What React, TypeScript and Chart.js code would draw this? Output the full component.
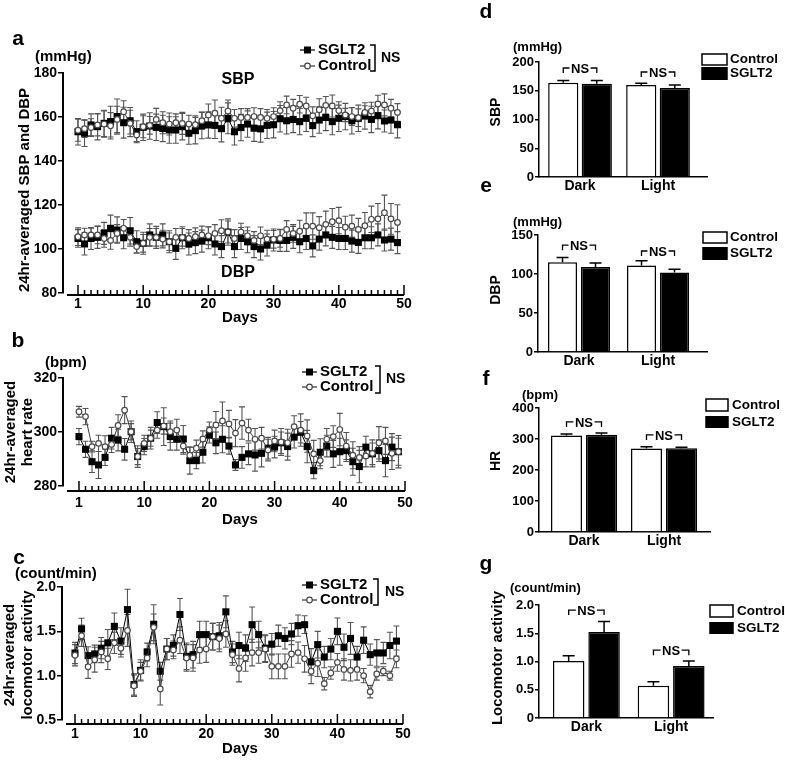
import React, { useEffect, useRef } from 'react';
import { Chart, registerables } from 'chart.js';

Chart.register(...registerables);

const FONT = '"Liberation Sans", Arial, Helvetica, sans-serif';

// ---------- Day axis ----------
const dayTickValues = [0, 10, 20, 30, 40, 50];
const dayTickLabels = ['1', '10', '20', '30', '40', '50'];

// ---------- Panel a: SBP / DBP (mmHg) ----------
const sbpSglt2 = [153.3, 152.6, 156.4, 155.6, 157.1, 157.9, 160.2, 157.4, 158.3, 153.3, 155.3, 155.9, 155.3, 154.8, 154.1, 154.1, 155.6, 152.6, 153.8, 156.1, 156.4, 156.2, 154.7, 159.4, 153.3, 155.2, 156.8, 154.9, 154.6, 156.2, 156.5, 159.2, 158.3, 158.9, 157.9, 159.4, 156.1, 158.6, 159.8, 157.9, 159.4, 160.2, 158.3, 159.4, 160.5, 158.9, 160.6, 158.2, 158.6, 156.5];
const sbpSglt2Err = [6, 6, 5, 6, 6, 7, 8, 7, 6, 5, 6, 6, 6, 6, 6, 6, 6, 5, 6, 6, 6, 6, 6, 7, 6, 6, 6, 6, 6, 6, 6, 6, 6, 6, 6, 6, 5, 6, 6, 6, 6, 6, 6, 6, 6, 6, 6, 5, 6, 6];
const sbpControl = [154.0, 154.7, 155.2, 156.4, 156.8, 156.0, 158.9, 162.4, 157.1, 151.8, 155.6, 156.2, 158.9, 157.4, 156.8, 157.4, 157.1, 156.8, 156.5, 158.3, 160.9, 161.7, 159.4, 162.7, 159.4, 159.8, 159.8, 160.2, 159.8, 159.4, 160.2, 162.9, 165.5, 164.0, 165.8, 165.0, 160.6, 163.3, 165.3, 165.0, 162.9, 160.9, 160.2, 159.7, 162.1, 162.7, 165.9, 165.5, 164.0, 162.1];
const sbpControlErr = [5, 4, 4, 5, 6, 6, 6, 5, 6, 3, 5, 4, 5, 5, 5, 4, 5, 4, 4, 4, 5, 6, 5, 5, 4, 4, 4, 4, 4, 4, 4, 4, 4, 4, 4, 4, 4, 5, 4, 5, 4, 3, 4, 4, 3, 4, 4, 5, 4, 4];
const dbpSglt2 = [104.8, 102.3, 104.8, 105.3, 107.1, 109.4, 108.6, 105.1, 108.3, 103.3, 102.6, 106.4, 105.3, 106.4, 103.3, 100.3, 105.1, 102.3, 102.9, 103.6, 105.1, 102.3, 101.1, 107.7, 101.1, 104.8, 103.3, 101.1, 100.0, 101.8, 104.1, 103.9, 103.9, 105.3, 103.3, 104.8, 101.4, 104.5, 106.4, 105.3, 104.8, 104.8, 103.6, 103.0, 105.1, 105.1, 106.4, 104.1, 104.5, 102.9];
const dbpSglt2Err = [4, 5, 5, 5, 5, 6, 6, 5, 6, 5, 5, 5, 5, 5, 5, 5, 5, 5, 5, 5, 5, 5, 5, 6, 5, 5, 5, 5, 5, 5, 5, 5, 5, 5, 5, 5, 5, 5, 5, 5, 5, 5, 5, 5, 5, 5, 5, 5, 5, 5];
const dbpControl = [105.6, 106.4, 106.4, 106.4, 104.8, 103.9, 107.1, 109.4, 105.3, 101.1, 102.6, 105.3, 105.3, 104.5, 103.3, 105.3, 105.3, 104.8, 105.6, 106.4, 106.0, 107.1, 108.3, 107.7, 104.8, 107.7, 106.0, 103.9, 106.0, 104.5, 104.4, 104.8, 108.9, 107.1, 108.1, 110.4, 110.4, 109.7, 111.2, 112.4, 112.9, 109.9, 110.4, 108.9, 110.6, 113.5, 113.7, 116.5, 113.7, 112.1];
const dbpControlErr = [4, 3, 3, 4, 4, 4, 4, 4, 4, 3, 4, 4, 4, 4, 4, 4, 4, 4, 4, 4, 4, 4, 5, 5, 4, 4, 4, 4, 4, 4, 4, 4, 4, 4, 5, 6, 6, 5, 6, 6, 6, 5, 5, 5, 6, 6, 7, 8, 7, 8];

// ---------- Panel b: heart rate (bpm) ----------
const hrSglt2 = [298.3, 293.6, 289.0, 287.8, 290.6, 297.7, 297.0, 293.6, 300.1, 290.9, 294.6, 297.7, 303.5, 302.0, 298.3, 297.3, 297.4, 289.4, 289.4, 292.5, 298.9, 296.0, 297.3, 294.8, 287.8, 290.6, 291.9, 291.5, 292.1, 294.0, 294.4, 296.0, 294.6, 298.1, 299.9, 294.6, 285.7, 292.5, 294.8, 291.9, 292.7, 293.1, 289.0, 287.2, 294.4, 291.9, 293.1, 289.4, 294.4, 292.7];
const hrSglt2Err = [3, 3, 4, 5, 3, 4, 4, 4, 3, 4, 3, 4, 4, 7, 5, 4, 5, 5, 3, 4, 3, 4, 5, 3, 2, 4, 4, 6, 5, 4, 4, 4, 5, 4, 4, 6, 3, 5, 4, 5, 5, 4, 5, 6, 4, 4, 4, 6, 5, 5];
const hrControl = [307.5, 305.7, 294.6, 295.8, 294.6, 295.4, 302.4, 308.1, 300.1, 290.9, 295.8, 297.7, 300.7, 302.2, 300.1, 300.7, 294.8, 291.4, 294.0, 297.4, 300.7, 302.6, 304.1, 303.0, 299.6, 303.3, 300.7, 297.3, 297.7, 293.3, 296.7, 296.3, 296.0, 302.0, 300.7, 298.5, 291.9, 289.4, 297.3, 298.3, 300.9, 294.8, 291.4, 290.6, 291.1, 292.1, 296.0, 296.7, 292.1, 292.7];
const hrControlErr = [2, 3, 2, 3, 4, 3, 4, 5, 4, 3, 3, 3, 3, 3, 4, 4, 3, 3, 3, 3, 3, 5, 7, 5, 5, 6, 4, 4, 4, 4, 4, 5, 5, 4, 6, 6, 5, 3, 4, 4, 6, 5, 5, 4, 4, 5, 6, 5, 6, 6];

// ---------- Panel c: locomotor activity (count/min) ----------
const locoSglt2 = [1.256, 1.527, 1.226, 1.245, 1.31, 1.37, 1.556, 1.39, 1.745, 0.9, 1.06, 1.267, 1.58, 1.05, 1.3, 1.34, 1.69, 1.218, 1.237, 1.463, 1.463, 1.44, 1.45, 1.72, 1.267, 1.34, 1.31, 1.575, 1.463, 1.31, 1.355, 1.45, 1.42, 1.47, 1.564, 1.575, 1.155, 1.35, 1.21, 1.3, 1.5, 1.32, 1.42, 1.21, 1.4, 1.237, 1.256, 1.256, 1.34, 1.39];
const locoSglt2Err = [0.12, 0.12, 0.1, 0.1, 0.12, 0.15, 0.15, 0.15, 0.23, 0.12, 0.12, 0.1, 0.22, 0.1, 0.12, 0.12, 0.18, 0.15, 0.15, 0.15, 0.15, 0.15, 0.15, 0.18, 0.12, 0.15, 0.15, 0.2, 0.15, 0.15, 0.12, 0.12, 0.12, 0.12, 0.12, 0.1, 0.15, 0.15, 0.12, 0.12, 0.15, 0.15, 0.18, 0.12, 0.15, 0.12, 0.15, 0.12, 0.15, 0.17];
const locoControl = [1.23, 1.45, 1.1, 1.18, 1.267, 1.19, 1.37, 1.31, 1.51, 0.887, 1.05, 1.2, 1.545, 0.85, 1.3, 1.29, 1.4, 1.2, 1.2, 1.29, 1.3, 1.44, 1.42, 1.47, 1.237, 1.08, 1.2, 1.26, 1.26, 1.3, 1.105, 1.105, 1.105, 1.245, 1.26, 1.19, 1.05, 1.14, 0.91, 1.03, 1.15, 1.07, 1.06, 1.07, 1.0, 0.82, 1.02, 1.05, 1.0, 1.19];
const locoControlErr = [0.12, 0.12, 0.13, 0.14, 0.12, 0.12, 0.12, 0.1, 0.18, 0.12, 0.1, 0.1, 0.15, 0.18, 0.12, 0.1, 0.15, 0.15, 0.15, 0.15, 0.15, 0.15, 0.15, 0.15, 0.12, 0.15, 0.15, 0.15, 0.12, 0.15, 0.14, 0.14, 0.14, 0.15, 0.12, 0.15, 0.14, 0.15, 0.07, 0.07, 0.1, 0.12, 0.12, 0.12, 0.08, 0.07, 0.07, 0.05, 0.05, 0.1];

// ---------- Panels d-g: Dark / Light phase bars ----------
const phases = ['Dark', 'Light'];
const sbpBarControl = [164, 160];
const sbpBarControlErr = [4, 3];
const sbpBarSglt2 = [162, 155];
const sbpBarSglt2Err = [6, 5];
const dbpBarControl = [115, 111];
const dbpBarControlErr = [6, 6];
const dbpBarSglt2 = [109, 102];
const dbpBarSglt2Err = [5, 4];
const hrBarControl = [311, 269];
const hrBarControlErr = [5, 6];
const hrBarSglt2 = [314, 270];
const hrBarSglt2Err = [5, 3];
const locoBarControl = [1.01, 0.57];
const locoBarControlErr = [0.09, 0.07];
const locoBarSglt2 = [1.52, 0.92];
const locoBarSglt2Err = [0.19, 0.09];

// ---------- helpers ----------
type Box = { left: number; top: number; width: number; height: number };
type Area = { L: number; T: number; R: number; B: number };

function txt(ctx: any, s: string, x: number, y: number, size: number, align: string = 'center', rot = 0) {
  ctx.save();
  ctx.font = `bold ${size}px ${FONT}`;
  ctx.fillStyle = '#000';
  ctx.textAlign = align;
  ctx.textBaseline = 'middle';
  ctx.translate(x, y);
  if (rot) ctx.rotate(rot);
  ctx.fillText(s, 0, 0);
  ctx.restore();
}

function lineLegend(ctx: any, o: any) {
  ctx.save();
  ctx.strokeStyle = '#000';
  ctx.lineWidth = 1.2;
  ctx.beginPath();
  ctx.moveTo(o.x0, o.y1);
  ctx.lineTo(o.x1, o.y1);
  ctx.stroke();
  const cx = (o.x0 + o.x1) / 2;
  ctx.fillStyle = '#000';
  ctx.fillRect(cx - 3.5, o.y1 - 3.5, 7, 7);
  txt(ctx, 'SGLT2', o.tx, o.y1, o.size, 'left');
  ctx.strokeStyle = '#333';
  ctx.beginPath();
  ctx.moveTo(o.x0, o.y2);
  ctx.lineTo(o.x1, o.y2);
  ctx.stroke();
  ctx.beginPath();
  ctx.arc(cx, o.y2, 2.8, 0, Math.PI * 2);
  ctx.fillStyle = '#fff';
  ctx.fill();
  ctx.lineWidth = 1.2;
  ctx.strokeStyle = '#444';
  ctx.stroke();
  txt(ctx, 'Control', o.tx, o.y2, o.size, 'left');
  ctx.strokeStyle = '#000';
  ctx.lineWidth = 1.5;
  ctx.beginPath();
  ctx.moveTo(o.brX - 5, o.brTop);
  ctx.lineTo(o.brX, o.brTop);
  ctx.lineTo(o.brX, o.brBot);
  ctx.lineTo(o.brX - 5, o.brBot);
  ctx.stroke();
  txt(ctx, 'NS', o.nsX, (o.brTop + o.brBot) / 2, 14, 'left');
  ctx.restore();
}

function barLegend(ctx: any, o: any) {
  ctx.save();
  ctx.lineWidth = 1.5;
  ctx.strokeStyle = '#000';
  ctx.fillStyle = '#fff';
  ctx.fillRect(o.bx, o.c1, o.bw, o.c2 - o.c1);
  ctx.strokeRect(o.bx, o.c1, o.bw, o.c2 - o.c1);
  ctx.fillStyle = '#000';
  ctx.fillRect(o.bx - 0.75, o.s1, o.bw + 1.5, o.s2 - o.s1);
  txt(ctx, 'Control', o.tx, (o.c1 + o.c2) / 2, o.size, 'left');
  txt(ctx, 'SGLT2', o.tx, (o.s1 + o.s2) / 2, o.size, 'left');
  ctx.restore();
}

function nsBracket(ctx: any, x1: number, x2: number, y: number, size: number) {
  const mid = (x1 + x2) / 2;
  ctx.save();
  ctx.font = `bold ${size}px ${FONT}`;
  const w = ctx.measureText('NS').width;
  ctx.strokeStyle = '#000';
  ctx.lineWidth = 1.3;
  ctx.beginPath();
  ctx.moveTo(x1, y + 5);
  ctx.lineTo(x1, y);
  ctx.lineTo(mid - w / 2 - 1.5, y);
  ctx.moveTo(mid + w / 2 + 1.5, y);
  ctx.lineTo(x2, y);
  ctx.lineTo(x2, y + 5);
  ctx.stroke();
  ctx.restore();
  txt(ctx, 'NS', mid, y + 1, size);
}

// ---------- line panels ----------
interface Series { values: number[]; errs: number[]; kind: 'sglt2' | 'control' }
interface LinePanel {
  box: Box; area: Area; yMin: number; yMax: number; yStep: number; yFmt: (v: number) => string;
  xMin: number; xMax: number; axisOff: number; labelPad: number; series: Series[];
  draw: (ctx: any, chart: any) => void;
}

function mkLineDataset(s: Series) {
  const isS = s.kind === 'sglt2';
  return {
    label: isS ? 'SGLT2' : 'Control',
    data: s.values.map((v, i) => ({ x: i, y: v })),
    errs: s.errs,
    borderColor: isS ? '#000' : '#3a3a3a',
    borderWidth: 1,
    backgroundColor: isS ? '#000' : '#fff',
    pointStyle: isS ? 'rect' : 'circle',
    pointRadius: isS ? 5 : 2.8,
    pointBorderWidth: isS ? 0 : 1.2,
    pointBorderColor: isS ? '#000' : '#4a4a4a',
    pointBackgroundColor: isS ? '#000' : '#fff',
    tension: 0,
    order: isS ? 1 : 0,
    clip: false,
  };
}

function lineConfig(p: LinePanel): any {
  const { box, area } = p;
  return {
    type: 'line',
    data: { datasets: p.series.map(mkLineDataset) },
    options: {
      responsive: false,
      animation: false,
      events: [],
      layout: { padding: { left: 0, top: area.T - box.top, right: box.left + box.width - area.R, bottom: 0 } },
      plugins: { legend: { display: false }, tooltip: { enabled: false }, title: { display: false } },
      scales: {
        x: {
          type: 'linear', min: p.xMin, max: p.xMax, offset: false,
          afterBuildTicks: (s: any) => { s.ticks = dayTickValues.map((v) => ({ value: v })); },
          ticks: { callback: (_v: any, i: number) => dayTickLabels[i], padding: p.labelPad, autoSkip: false, maxRotation: 0, color: '#000', font: { family: FONT, size: 14, weight: 'bold' } },
          grid: { display: false, drawTicks: false, tickLength: 0 },
          border: { display: false },
          afterFit: (s: any) => { s.height = box.top + box.height - area.B; s.paddingLeft = 0; s.paddingRight = 0; },
        },
        y: {
          type: 'linear', min: p.yMin, max: p.yMax,
          ticks: { stepSize: p.yStep, callback: (v: any) => p.yFmt(v), padding: 1, color: '#000', font: { family: FONT, size: 14, weight: 'bold' } },
          grid: { display: true, drawOnChartArea: false, drawTicks: true, tickLength: 5, color: '#000', lineWidth: 1.5 },
          border: { display: true, color: '#000', width: 2 },
          afterFit: (s: any) => { s.width = area.L - box.left; s.paddingTop = 0; s.paddingBottom = 0; },
        },
      },
    },
    plugins: [{
      id: 'extras',
      beforeDatasetsDraw(chart: any) {
        const ctx = chart.ctx;
        const ys = chart.scales.y;
        chart.data.datasets.forEach((ds: any, di: number) => {
          const meta = chart.getDatasetMeta(di);
          ctx.save();
          ctx.strokeStyle = '#555';
          ctx.lineWidth = 1.1;
          meta.data.forEach((pt: any, i: number) => {
            const v = ds.data[i].y;
            const e = ds.errs[i];
            const yt = ys.getPixelForValue(v + e);
            const yb = ys.getPixelForValue(v - e);
            ctx.beginPath();
            ctx.moveTo(pt.x, yt); ctx.lineTo(pt.x, yb);
            ctx.moveTo(pt.x - 3, yt); ctx.lineTo(pt.x + 3, yt);
            ctx.moveTo(pt.x - 3, yb); ctx.lineTo(pt.x + 3, yb);
            ctx.stroke();
          });
          ctx.restore();
        });
      },
      afterDraw(chart: any) {
        const ctx = chart.ctx;
        const xs = chart.scales.x;
        const ca = chart.chartArea;
        const yAx = ca.bottom + p.axisOff;
        ctx.save();
        ctx.strokeStyle = '#000';
        ctx.lineWidth = 2;
        ctx.beginPath();
        ctx.moveTo(ca.left + 4, yAx);
        ctx.lineTo(ca.right, yAx);
        ctx.stroke();
        ctx.lineWidth = 1.5;
        for (let v = 0; v <= 50; v++) {
          const x = xs.getPixelForValue(v);
          const len = v % 10 === 0 ? 10 : 5;
          ctx.beginPath();
          ctx.moveTo(x, yAx);
          ctx.lineTo(x, yAx - len);
          ctx.stroke();
        }
        ctx.restore();
        ctx.save();
        ctx.translate(-box.left, -box.top);
        p.draw(ctx, chart);
        ctx.restore();
      },
    }],
  };
}

// ---------- bar panels ----------
interface BarPanel {
  box: Box; area: Area; yMax: number; yStep: number; yFmt: (v: number) => string;
  xMin: number; xMax: number; catPct: number; barPct: number;
  control: number[]; controlErr: number[]; sglt2: number[]; sglt2Err: number[];
  nsLevels: number[]; draw: (ctx: any) => void;
}

function barConfig(p: BarPanel): any {
  const { box, area } = p;
  const ds = (vals: number[], errs: number[], ctrl: boolean) => ({
    label: ctrl ? 'Control' : 'SGLT2',
    data: vals.map((v, i) => ({ x: i, y: v })),
    errs,
    backgroundColor: ctrl ? '#fff' : '#000',
    borderColor: '#000',
    borderWidth: 1.5,
    categoryPercentage: p.catPct,
    barPercentage: p.barPct,
  });
  return {
    type: 'bar',
    data: { datasets: [ds(p.control, p.controlErr, true), ds(p.sglt2, p.sglt2Err, false)] },
    options: {
      responsive: false,
      animation: false,
      events: [],
      layout: { padding: { left: 0, top: area.T - box.top, right: box.left + box.width - area.R, bottom: 0 } },
      plugins: { legend: { display: false }, tooltip: { enabled: false }, title: { display: false } },
      scales: {
        x: {
          type: 'linear', min: p.xMin, max: p.xMax, offset: false,
          afterBuildTicks: (s: any) => { s.ticks = phases.map((_n, i) => ({ value: i })); },
          ticks: { callback: (_v: any, i: number) => phases[i], padding: 1, autoSkip: false, maxRotation: 0, color: '#000', font: { family: FONT, size: 14, weight: 'bold' } },
          grid: { display: false, offset: false, drawTicks: false, tickLength: 0 },
          border: { display: true, color: '#000', width: 1.5 },
          afterFit: (s: any) => { s.height = box.top + box.height - area.B; s.paddingLeft = 0; s.paddingRight = 0; },
        },
        y: {
          type: 'linear', min: 0, max: p.yMax,
          ticks: { stepSize: p.yStep, callback: (v: any) => p.yFmt(v), padding: 1, color: '#000', font: { family: FONT, size: 13, weight: 'bold' } },
          grid: { display: true, drawOnChartArea: false, drawTicks: true, tickLength: 4, color: '#000', lineWidth: 1.5 },
          border: { display: true, color: '#000', width: 1.5 },
          afterFit: (s: any) => { s.width = area.L - box.left; s.paddingTop = 0; s.paddingBottom = 0; },
        },
      },
    },
    plugins: [{
      id: 'extras',
      afterDatasetsDraw(chart: any) {
        const ctx = chart.ctx;
        const ys = chart.scales.y;
        ctx.save();
        ctx.strokeStyle = '#000';
        ctx.lineWidth = 1.5;
        chart.data.datasets.forEach((d: any, di: number) => {
          const meta = chart.getDatasetMeta(di);
          meta.data.forEach((el: any, i: number) => {
            const v = d.data[i].y;
            const yt = ys.getPixelForValue(v + d.errs[i]);
            ctx.beginPath();
            ctx.moveTo(el.x, el.y);
            ctx.lineTo(el.x, yt);
            ctx.moveTo(el.x - 6, yt);
            ctx.lineTo(el.x + 6, yt);
            ctx.stroke();
          });
        });
        ctx.restore();
        const m0 = chart.getDatasetMeta(0);
        const m1 = chart.getDatasetMeta(1);
        p.nsLevels.forEach((lv, i) => {
          nsBracket(ctx, m0.data[i].x, m1.data[i].x, ys.getPixelForValue(lv), 13);
        });
      },
      afterDraw(chart: any) {
        const ctx = chart.ctx;
        ctx.save();
        ctx.translate(-box.left, -box.top);
        p.draw(ctx);
        ctx.restore();
      },
    }],
  };
}

// ---------- panel definitions ----------
const fmtInt = (v: number) => String(v);
const fmt1 = (v: number) => v.toFixed(1);

const panelA: LinePanel = {
  box: { left: 0, top: 0, width: 420, height: 330 },
  area: { L: 63, T: 73, R: 404, B: 293 },
  yMin: 80, yMax: 180, yStep: 20, yFmt: fmtInt,
  xMin: -2.3, xMax: 50, axisOff: 2, labelPad: 3,
  series: [
    { values: sbpSglt2, errs: sbpSglt2Err, kind: 'sglt2' },
    { values: sbpControl, errs: sbpControlErr, kind: 'control' },
    { values: dbpSglt2, errs: dbpSglt2Err, kind: 'sglt2' },
    { values: dbpControl, errs: dbpControlErr, kind: 'control' },
  ],
  draw: (ctx) => {
    txt(ctx, 'a', 18, 39, 21, 'center');
    txt(ctx, '(mmHg)', 35, 57, 15, 'left');
    txt(ctx, '24hr-averaged SBP and DBP', 25, 190, 15, 'center', -Math.PI / 2);
    txt(ctx, 'SBP', 238, 80, 16);
    txt(ctx, 'DBP', 238, 273, 16);
    txt(ctx, 'Days', 240, 318, 15);
    lineLegend(ctx, { x0: 300, x1: 315, tx: 318, y1: 50, y2: 66, size: 15, brX: 375, brTop: 45, brBot: 71, nsX: 381 });
  },
};

const panelB: LinePanel = {
  box: { left: 0, top: 325, width: 420, height: 205 },
  area: { L: 63, T: 378, R: 405, B: 486 },
  yMin: 280, yMax: 320, yStep: 20, yFmt: fmtInt,
  xMin: -2.45, xMax: 50, axisOff: 5, labelPad: 9,
  series: [
    { values: hrSglt2, errs: hrSglt2Err, kind: 'sglt2' },
    { values: hrControl, errs: hrControlErr, kind: 'control' },
  ],
  draw: (ctx) => {
    txt(ctx, 'b', 18, 341, 21, 'center');
    txt(ctx, '(bpm)', 45, 363, 15, 'left');
    txt(ctx, '24hr-averaged', 11, 432, 15, 'center', -Math.PI / 2);
    txt(ctx, 'heart rate', 28, 432, 15, 'center', -Math.PI / 2);
    txt(ctx, 'Days', 240, 520, 15);
    lineLegend(ctx, { x0: 302, x1: 317, tx: 320, y1: 372, y2: 387, size: 15, brX: 380, brTop: 366, brBot: 393, nsX: 386 });
  },
};

const panelC: LinePanel = {
  box: { left: 0, top: 535, width: 420, height: 225 },
  area: { L: 62, T: 587, R: 403, B: 720 },
  yMin: 0.5, yMax: 2.0, yStep: 0.5, yFmt: fmt1,
  xMin: -1.98, xMax: 50, axisOff: 4, labelPad: 6,
  series: [
    { values: locoSglt2, errs: locoSglt2Err, kind: 'sglt2' },
    { values: locoControl, errs: locoControlErr, kind: 'control' },
  ],
  draw: (ctx) => {
    txt(ctx, 'c', 19, 558, 21, 'center');
    txt(ctx, '(count/min)', 15, 574, 15, 'left');
    txt(ctx, '24hr-averaged', 10, 655, 15, 'center', -Math.PI / 2);
    txt(ctx, 'locomotor activity', 28, 655, 15, 'center', -Math.PI / 2);
    txt(ctx, 'Days', 240, 749, 15);
    lineLegend(ctx, { x0: 302, x1: 317, tx: 320, y1: 585, y2: 600, size: 15, brX: 378, brTop: 579, brBot: 605, nsX: 385 });
  },
};

const panelD: BarPanel = {
  box: { left: 470, top: 0, width: 315, height: 205 },
  area: { L: 539, T: 62, R: 707, B: 177 },
  yMax: 200, yStep: 50, yFmt: fmtInt,
  xMin: -0.526, xMax: 1.628, catPct: 0.86, barPct: 0.9,
  control: sbpBarControl, controlErr: sbpBarControlErr, sglt2: sbpBarSglt2, sglt2Err: sbpBarSglt2Err,
  nsLevels: [189.6, 182.6],
  draw: (ctx) => {
    txt(ctx, 'd', 486, 12, 21, 'center');
    txt(ctx, '(mmHg)', 513, 47, 13, 'left');
    txt(ctx, 'SBP', 496, 112, 14, 'center', -Math.PI / 2);
    barLegend(ctx, { bx: 702, bw: 25, c1: 54, c2: 65, s1: 67, s2: 80, tx: 730, size: 13.5 });
  },
};

const panelE: BarPanel = {
  box: { left: 470, top: 178, width: 315, height: 200 },
  area: { L: 538, T: 235, R: 707, B: 352 },
  yMax: 150, yStep: 50, yFmt: fmtInt,
  xMin: -0.519, xMax: 1.62, catPct: 0.835, barPct: 0.88,
  control: dbpBarControl, controlErr: dbpBarControlErr, sglt2: dbpBarSglt2, sglt2Err: dbpBarSglt2Err,
  nsLevels: [137, 129.5],
  draw: (ctx) => {
    txt(ctx, 'e', 486, 186, 21, 'center');
    txt(ctx, '(mmHg)', 513, 222, 13, 'left');
    txt(ctx, 'DBP', 496, 290, 14, 'center', -Math.PI / 2);
    barLegend(ctx, { bx: 703, bw: 24, c1: 232, c2: 243, s1: 247, s2: 260, tx: 730, size: 13.5 });
  },
};

const panelF: BarPanel = {
  box: { left: 470, top: 368, width: 315, height: 192 },
  area: { L: 539, T: 408, R: 710, B: 532 },
  yMax: 400, yStep: 100, yFmt: fmtInt,
  xMin: -0.5625, xMax: 1.575, catPct: 0.875, barPct: 0.886,
  control: hrBarControl, controlErr: hrBarControlErr, sglt2: hrBarSglt2, sglt2Err: hrBarSglt2Err,
  nsLevels: [355, 313],
  draw: (ctx) => {
    txt(ctx, 'f', 486, 379, 21, 'center');
    txt(ctx, '(bpm)', 522, 395, 13, 'left');
    txt(ctx, 'HR', 496, 461, 14, 'center', -Math.PI / 2);
    barLegend(ctx, { bx: 706, bw: 22, c1: 399, c2: 411, s1: 416, s2: 428, tx: 732, size: 13.5 });
  },
};

const panelG: BarPanel = {
  box: { left: 470, top: 555, width: 315, height: 205 },
  area: { L: 539, T: 605, R: 713, B: 718 },
  yMax: 2.0, yStep: 0.5, yFmt: (v: number) => (v === 0 ? '0' : v.toFixed(1)),
  xMin: -0.559, xMax: 1.494, catPct: 0.835, barPct: 0.89,
  control: locoBarControl, controlErr: locoBarControlErr, sglt2: locoBarSglt2, sglt2Err: locoBarSglt2Err,
  nsLevels: [1.91, 1.2],
  draw: (ctx) => {
    txt(ctx, 'g', 486, 564, 21, 'center');
    txt(ctx, '(count/min)', 510, 588, 13, 'left');
    txt(ctx, 'Locomotor activity', 498, 658, 15, 'center', -Math.PI / 2);
    barLegend(ctx, { bx: 710, bw: 23, c1: 605, c2: 617, s1: 622, s2: 634, tx: 737, size: 13.5 });
  },
};

function ChartCanvas({ box, makeConfig }: { box: Box; makeConfig: () => any }) {
  const ref = useRef<HTMLCanvasElement>(null);
  useEffect(() => {
    const chart = new Chart(ref.current as HTMLCanvasElement, makeConfig());
    return () => chart.destroy();
  }, []);
  return (
    <canvas
      ref={ref}
      width={box.width}
      height={box.height}
      style={{ position: 'absolute', left: box.left, top: box.top, width: box.width, height: box.height }}
    />
  );
}

export default function App() {
  return (
    <div style={{ position: 'absolute', left: 0, top: 0, width: 785, height: 760, background: '#fff', fontFamily: FONT }}>
      <ChartCanvas box={panelA.box} makeConfig={() => lineConfig(panelA)} />
      <ChartCanvas box={panelB.box} makeConfig={() => lineConfig(panelB)} />
      <ChartCanvas box={panelC.box} makeConfig={() => lineConfig(panelC)} />
      <ChartCanvas box={panelD.box} makeConfig={() => barConfig(panelD)} />
      <ChartCanvas box={panelE.box} makeConfig={() => barConfig(panelE)} />
      <ChartCanvas box={panelF.box} makeConfig={() => barConfig(panelF)} />
      <ChartCanvas box={panelG.box} makeConfig={() => barConfig(panelG)} />
    </div>
  );
}
